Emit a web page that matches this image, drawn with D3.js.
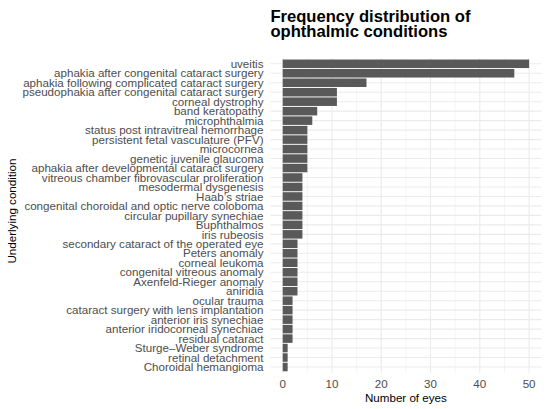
<!DOCTYPE html>
<html>
<head>
<meta charset="utf-8">
<script src="https://cdn.jsdelivr.net/npm/d3@7"></script>
<style>
  body { margin: 0; background: #fff; }
  text { font-family: "Liberation Sans", Arial, sans-serif; }
</style>
</head>
<body>
<script>
// condiciones, de arriba hacia abajo
const condiciones = [
  "uveitis",
  "aphakia after congenital cataract surgery",
  "aphakia following complicated cataract surgery",
  "pseudophakia after congenital cataract surgery",
  "corneal dystrophy",
  "band keratopathy",
  "microphthalmia",
  "status post intravitreal hemorrhage",
  "persistent fetal vasculature (PFV)",
  "microcornea",
  "genetic juvenile glaucoma",
  "aphakia after developmental cataract surgery",
  "vitreous chamber fibrovascular proliferation",
  "mesodermal dysgenesis",
  "Haab\u2019s striae",
  "congenital choroidal and optic nerve coloboma",
  "circular pupillary synechiae",
  "Buphthalmos",
  "iris rubeosis",
  "secondary cataract of the operated eye",
  "Peters anomaly",
  "corneal leukoma",
  "congenital vitreous anomaly",
  "Axenfeld-Rieger anomaly",
  "aniridia",
  "ocular trauma",
  "cataract surgery with lens implantation",
  "anterior iris synechiae",
  "anterior iridocorneal synechiae",
  "residual cataract",
  "Sturge\u2013Weber syndrome",
  "retinal detachment",
  "Choroidal hemangioma"
];
const ojos = [50, 47, 17, 11, 11, 7, 6, 5, 5, 5, 5, 5, 4, 4, 4, 4, 4, 4, 4,
              3, 3, 3, 3, 3, 3, 2, 2, 2, 2, 2, 1, 1, 1];
const ticksX = [0, 10, 20, 30, 40, 50];
const ticksMenores = [5, 15, 25, 35, 45];

const ancho = 550, alto = 409;
const panel = { left: 270.4, right: 541.4, top: 58.1, bottom: 372.7 };

const svg = d3.select("body").append("svg")
  .attr("width", ancho).attr("height", alto);

const x = d3.scaleLinear().domain([-2.5, 52.5]).range([panel.left, panel.right]);
const y = d3.scaleBand().domain(condiciones)
  .range([panel.top, panel.bottom])
  .paddingInner(0.1).paddingOuter(0.15);

// grilla
const grid = svg.append("g");
grid.selectAll(".menor").data(ticksMenores).join("line")
  .attr("x1", d => x(d)).attr("x2", d => x(d))
  .attr("y1", panel.top).attr("y2", panel.bottom)
  .attr("stroke", "#ebebeb").attr("stroke-width", 0.55);
grid.selectAll(".mayorx").data(ticksX).join("line")
  .attr("x1", d => x(d)).attr("x2", d => x(d))
  .attr("y1", panel.top).attr("y2", panel.bottom)
  .attr("stroke", "#ebebeb").attr("stroke-width", 1.1);
grid.selectAll(".mayory").data(condiciones).join("line")
  .attr("x1", panel.left).attr("x2", panel.right)
  .attr("y1", d => y(d) + y.bandwidth() / 2).attr("y2", d => y(d) + y.bandwidth() / 2)
  .attr("stroke", "#ebebeb").attr("stroke-width", 1.1);

// barras
svg.selectAll("rect.barra")
  .data(ojos)
  .join("rect")
  .attr("class", "barra")
  .attr("x", x(0))
  .attr("y", (_, i) => y(condiciones[i]))
  .attr("width", d => x(d) - x(0))
  .attr("height", y.bandwidth())
  .attr("fill", "#595959");

// etiquetas eje y
svg.append("g").selectAll("text").data(condiciones).join("text")
  .attr("x", 263.5)
  .attr("y", d => y(d) + y.bandwidth() / 2)
  .attr("dy", "0.36em")
  .attr("text-anchor", "end")
  .attr("font-size", 11.6)
  .attr("fill", "#4d4d4d")
  .text(d => d);

// etiquetas eje x
svg.append("g").selectAll("text").data(ticksX).join("text")
  .attr("x", d => x(d))
  .attr("y", 388)
  .attr("text-anchor", "middle")
  .attr("font-size", 11.6)
  .attr("fill", "#4d4d4d")
  .text(d => d);

// títulos de ejes
svg.append("text")
  .attr("x", (panel.left + panel.right) / 2)
  .attr("y", 402)
  .attr("text-anchor", "middle")
  .attr("font-size", 11.6)
  .attr("fill", "#000")
  .text("Number of eyes");

svg.append("text")
  .attr("transform", "translate(16,211) rotate(-90)")
  .attr("text-anchor", "middle")
  .attr("font-size", 11.6)
  .attr("fill", "#000")
  .text("Underlying condition");

// título
const titulo = svg.append("text")
  .attr("x", panel.left)
  .attr("font-size", 16.6)
  .attr("font-weight", "bold")
  .attr("fill", "#000");
titulo.append("tspan").attr("x", panel.left).attr("y", 21.7).text("Frequency distribution of");
titulo.append("tspan").attr("x", panel.left).attr("y", 37).text("ophthalmic conditions");
</script>
</body>
</html>
